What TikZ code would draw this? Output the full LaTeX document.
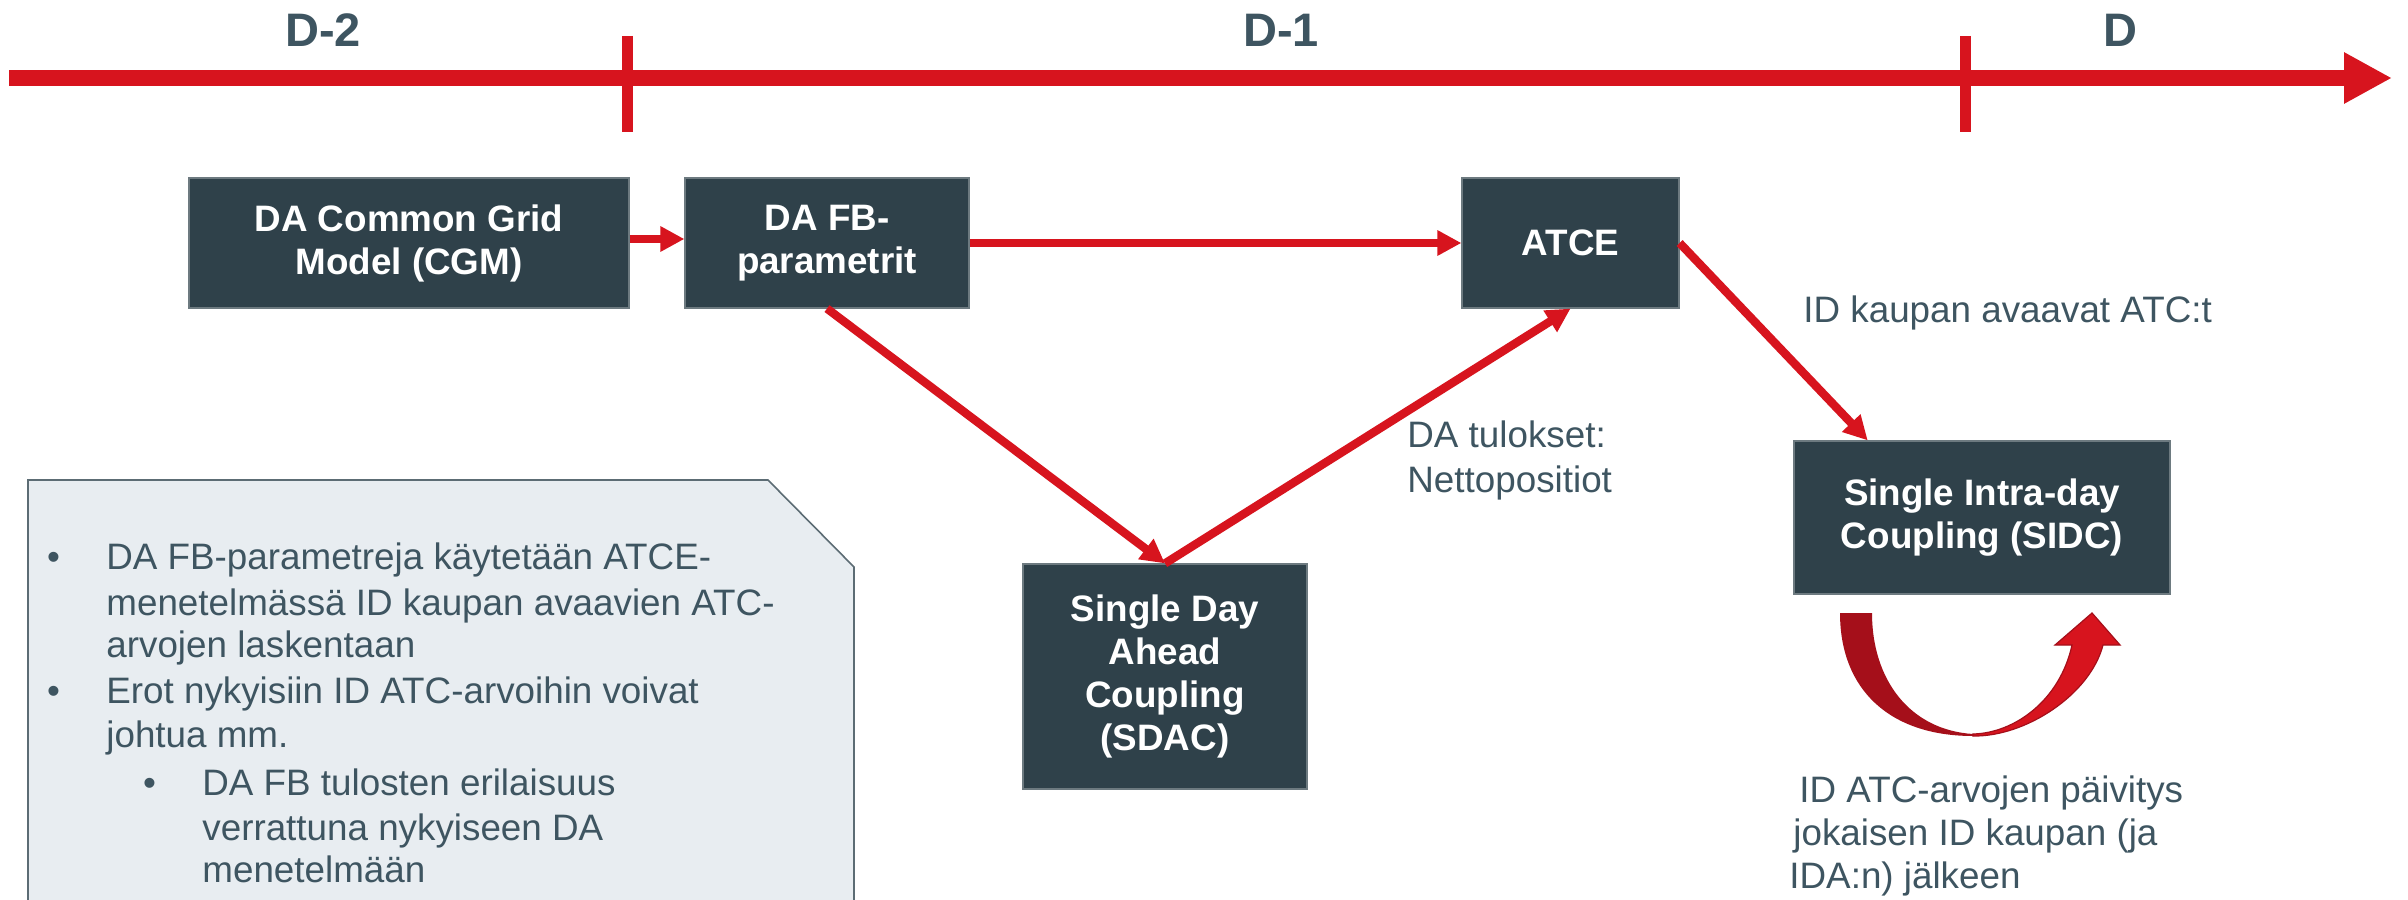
\documentclass[tikz,border=0pt]{standalone}
\usepackage{fontspec}
\setmainfont{Liberation Sans}
\usetikzlibrary{arrows.meta,calc}
\definecolor{accred}{RGB}{215,20,30}
\definecolor{darkred}{RGB}{165,15,26}
\definecolor{boxfill}{RGB}{47,65,74}
\definecolor{txtgray}{RGB}{62,85,97}
\definecolor{calloutfill}{RGB}{232,237,241}
\definecolor{calloutline}{RGB}{92,108,116}
\begin{document}
\begin{tikzpicture}[x=0.5pt,y=-0.5pt,
  darkbox/.style={fill=boxfill, draw=boxfill!70!white, line width=0.6pt, text=white,
    font=\bfseries\fontsize{18.4}{21.5}\selectfont, align=center, inner sep=0pt},
  conn/.style={draw=accred, line width=3.6pt, -{Triangle[length=12pt,width=12pt]}},
  diagconn/.style={conn, line width=4.2pt},
  lbl/.style={text=txtgray, font=\fontsize{18.4}{21.5}\selectfont, inner sep=0pt, anchor=base west},
  bul/.style={text=txtgray, font=\fontsize{18.4}{21.5}\selectfont, inner sep=0pt, anchor=base},
  daylbl/.style={text=txtgray, font=\bfseries\fontsize{23.5}{28}\selectfont, inner sep=0pt, anchor=base},
  ticker/.style={draw=accred, line width=5.5pt},
  timeline/.style={draw=accred, line width=8pt, -{Triangle[length=24pt,width=24pt]}},
]
\fill[white] (0,0) rectangle (2408,899);
\useasboundingbox (0,0) rectangle (2408,899);

% callout
\begin{scope}
\clip (0,0) rectangle (2408,899);
\filldraw[fill=calloutfill, draw=calloutline, line width=0.8pt]
  (28,480) -- (768,480) -- (854,567) -- (854,940) -- (28,940) -- cycle;
\end{scope}

% timeline
\coordinate (tl0) at (9,78);
\coordinate (tl1) at (2392,78);
\draw[timeline] (tl0) -- (tl1);
\coordinate (k1a) at (627,36);
\coordinate (k1b) at (627,132);
\coordinate (k2a) at (1965,36);
\coordinate (k2b) at (1965,132);
\draw[ticker] (k1a) -- (k1b);
\draw[ticker] (k2a) -- (k2b);
\node[daylbl] (d2) at (323,47) {D-2};
\node[daylbl] (d1) at (1281,47) {D-1};
\node[daylbl] (d0) at (2120,47) {D};

% boxes
\node[darkbox, minimum width=220pt, minimum height=65pt] (cgm) at (409,243) {DA Common Grid\\Model (CGM)};
\node[darkbox, minimum width=142pt, minimum height=65pt] (fb) at (827,243) {DA FB-\\parametrit};
\node[darkbox, minimum width=108.5pt, minimum height=65pt] (atce) at (1570.5,243) {ATCE};
\node[darkbox, minimum width=142pt, minimum height=112.5pt] (sdac) at (1165,676.5) {Single Day\\Ahead\\Coupling\\(SDAC)};
\node[darkbox, minimum width=188pt, minimum height=76.5pt] (sidc) at (1982,517.5) {Single Intra-day\\Coupling (SIDC)};

% connectors
\draw[conn] ($(cgm.east)+(0,-4)$) -- ($(fb.west)+(0,-4)$);
\draw[conn] (fb.east) -- (atce.west);
\draw[diagconn] (fb.south) -- (sdac.north);
\draw[diagconn] (sdac.north) -- (atce.south);
\coordinate (sidcin) at ($(sidc.north west)!0.197!(sidc.north east)$);
\draw[diagconn] (atce.east) -- (sidcin);

% labels
\node[lbl] (l1) at (1803,322) {ID kaupan avaavat ATC:t};
\node[lbl] (l2a) at (1407,447) {DA tulokset:};
\node[lbl] (l2b) at (1407,492) {Nettopositiot};
\node[lbl] (l3a) at (1799,802) {ID ATC-arvojen päivitys};
\node[lbl] (l3b) at (1793,845) {jokaisen ID kaupan (ja};
\node[lbl] (l3c) at (1789,888) {IDA:n) jälkeen};

% callout text
\node[bul] (b1) at (53.5,569) {•};
\node[bul] (b2) at (53.5,703) {•};
\node[bul] (b3) at (149.5,795) {•};
\node[lbl] (c1) at (106,569) {DA FB-parametreja käytetään ATCE-};
\node[lbl] (c2) at (106,615) {menetelmässä ID kaupan avaavien ATC-};
\node[lbl] (c3) at (106,657) {arvojen laskentaan};
\node[lbl] (c4) at (106,703) {Erot nykyisiin ID ATC-arvoihin voivat};
\node[lbl] (c5) at (106,747) {johtua mm.};
\node[lbl] (c6) at (202,795) {DA FB tulosten erilaisuus};
\node[lbl] (c7) at (202,840) {verrattuna nykyiseen DA};
\node[lbl] (c8) at (202,882) {menetelmään};

% curved loop arrow below SIDC
\fill[darkred] (1840,613) .. controls (1840,690) and (1890,736) .. (1973,736)
  -- (1973,734) .. controls (1910,730) and (1872,680) .. (1872,613) -- cycle;
\filldraw[fill=accred, draw=darkred, line width=0.6pt]
  (1973,736) .. controls (2025,737) and (2090,695) .. (2103,645)
  -- (2120,645) -- (2092,613) -- (2055,645) -- (2072,645)
  .. controls (2060,700) and (2015,733) .. (1973,734) -- cycle;
\end{tikzpicture}
\end{document}
